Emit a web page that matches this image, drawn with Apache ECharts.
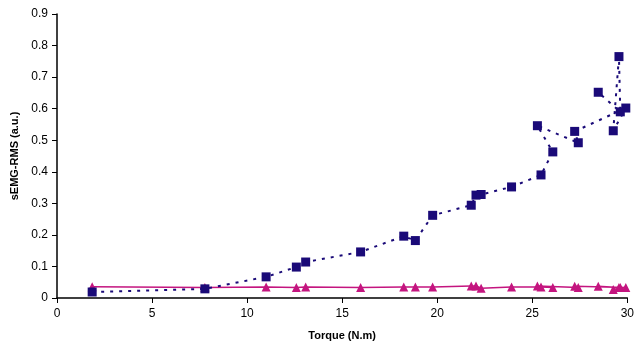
<!DOCTYPE html>
<html>
<head>
<meta charset="utf-8">
<script src="https://cdn.jsdelivr.net/npm/echarts@6/dist/echarts.min.js"></script>
<style>html,body{margin:0;padding:0;background:#fff;}#c{width:637px;height:346px;}</style>
</head>
<body>
<div id="c"></div>
<script>
// Torque values (N.m), in acquisition order
var torque = [1.85, 7.78, 11.0, 12.59, 13.08, 15.97, 18.24, 18.85, 19.76, 21.79, 22.04, 22.31, 23.91, 25.46, 26.08, 25.27, 27.42, 27.23, 29.92, 29.26, 29.56, 29.63, 28.47];
// sEMG-RMS of first muscle (squares)
var rmsSquare = [0.019, 0.029, 0.067, 0.098, 0.114, 0.146, 0.196, 0.182, 0.262, 0.294, 0.326, 0.328, 0.352, 0.390, 0.463, 0.546, 0.492, 0.528, 0.602, 0.530, 0.765, 0.590, 0.652];
// sEMG-RMS of second muscle (triangles)
var rmsTriangle = [0.036, 0.033, 0.035, 0.033, 0.035, 0.033, 0.035, 0.035, 0.035, 0.038, 0.038, 0.031, 0.035, 0.035, 0.033, 0.038, 0.033, 0.037, 0.033, 0.027, 0.033, 0.033, 0.037];

function pairs(xs, ys){ return xs.map(function(x,i){ return [x, ys[i]]; }); }

var chart = echarts.init(document.getElementById('c'));
var font = 'Liberation Sans, Arial, sans-serif';
chart.setOption({
  animation: false,
  grid: {left: 57, right: 8, top: 14, bottom: 48, containLabel: false},
  xAxis: {
    type: 'value', min: 0, max: 30, interval: 5,
    name: 'Torque (N.m)', nameLocation: 'middle', nameGap: 32,
    nameTextStyle: {fontFamily: font, fontSize: 11, fontWeight: 'bold', color: '#000'},
    axisLine: {show: true, lineStyle: {color: '#000', width: 1.5}},
    axisTick: {show: true, inside: false, length: 5, lineStyle: {color: '#000'}},
    axisLabel: {fontFamily: font, fontSize: 12, color: '#000', margin: 10},
    splitLine: {show: false}
  },
  yAxis: {
    type: 'value', min: 0, max: 0.9, interval: 0.1,
    name: 'sEMG-RMS (a.u.)', nameLocation: 'middle', nameGap: 37,
    nameTextStyle: {fontFamily: font, fontSize: 11, fontWeight: 'bold', color: '#000'},
    axisLine: {show: true, lineStyle: {color: '#000', width: 1.5}},
    axisTick: {show: true, inside: false, length: 5, lineStyle: {color: '#000'}},
    axisLabel: {fontFamily: font, fontSize: 12, color: '#000', margin: 9,
      formatter: function(v){ return v === 0 ? '0' : v.toFixed(1); }},
    splitLine: {show: false}
  },
  series: [
    {
      type: 'line', data: pairs(torque, rmsTriangle),
      symbol: 'triangle', symbolSize: 9,
      itemStyle: {color: '#C4157F'},
      lineStyle: {color: '#C4157F', width: 1.5, type: 'solid'},
      z: 2
    },
    {
      type: 'line', data: pairs(torque, rmsSquare),
      symbol: 'rect', symbolSize: 9,
      itemStyle: {color: '#1A0A78'},
      lineStyle: {color: '#1A0A78', width: 2, type: [3, 6]},
      z: 3
    }
  ]
});
</script>
</body>
</html>
